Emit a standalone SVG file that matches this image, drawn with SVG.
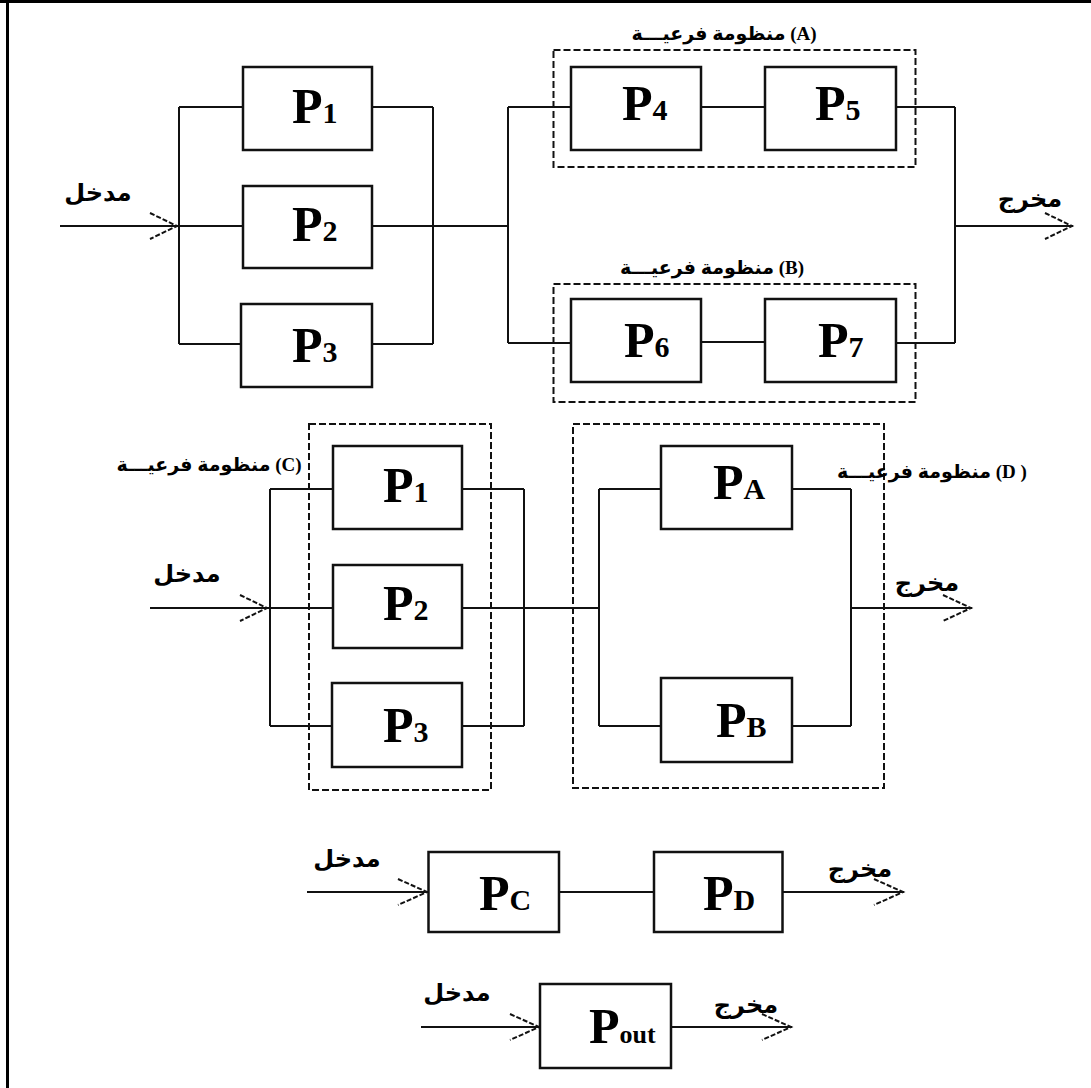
<svg xmlns="http://www.w3.org/2000/svg" width="1091" height="1088" viewBox="0 0 1091 1088">
  <style>
    .box { fill: #fff; stroke: #111; stroke-width: 2.5; }
    .sub { fill: none; stroke: #111; stroke-width: 2; stroke-dasharray: 7 3; }
    .wire { fill: none; stroke: #111; stroke-width: 2; }
    .head { fill: none; stroke: #111; stroke-width: 2; stroke-dasharray: 5 2; }
    .p { font-family: "Liberation Serif", "Times New Roman", serif; font-weight: bold; fill: #000; }
    .pm { font-size: 50px; }
    .ps { font-size: 30px; }
    .ar { font-family: "Liberation Serif", "DejaVu Sans", "Noto Sans", sans-serif; font-weight: bold; font-size: 24px; fill: #000; text-anchor: middle; }
    .arS { font-size: 19px; }
  </style>

  <rect width="1091" height="1088" fill="#fff"/>
  <!-- frame -->
  <line x1="0" y1="1.5" x2="1091" y2="1.5" stroke="#000" stroke-width="3"/>
  <line x1="7.5" y1="0" x2="7.5" y2="1088" stroke="#000" stroke-width="3"/>

  <!-- connectors -->
  <g id="connectors">
    <!-- top: P1..P3 parallel -->
    <path class="wire" d="M60 226 H243 M179 107 V344 M179 107 H243 M179 344 H241 M372 107 H433 M372 344 H433 M433 107 V344 M372 226 H508"/>
    <path class="head" d="M150 213 L177 226 L150 239"/>
    <!-- top: subsystems A and B -->
    <path class="wire" d="M508 107 V343 M508 107 H571 M508 343 H571 M701 107 H765 M701 342 H765 M896 107 H955 M896 343 H955 M955 107 V343 M955 226 H1073"/>
    <path class="head" d="M1045 213 L1072 226 L1045 239"/>
    <!-- middle: C and D -->
    <path class="wire" d="M150 608 H333 M270 489 V726 M270 489 H333 M270 726 H332 M462 489 H524 M462 726 H524 M524 489 V726 M462 608 H599 M599 489 V726 M599 489 H661 M599 726 H661 M792 489 H851 M792 726 H851 M851 489 V726 M851 608 H972"/>
    <path class="head" d="M240 595 L267 608 L240 621"/>
    <path class="head" d="M943 595 L971 608 L943 621"/>
    <!-- bottom: PC, PD in series -->
    <path class="wire" d="M307 892 H428 M559 892 H654 M782 892 H904"/>
    <path class="head" d="M398 879 L427 892 L398 905"/>
    <path class="head" d="M874 879 L903 892 L874 905"/>
    <!-- bottom: Pout -->
    <path class="wire" d="M421 1027 H540 M671 1027 H792"/>
    <path class="head" d="M510 1014 L539 1027 L510 1040"/>
    <path class="head" d="M762 1014 L791 1027 L762 1040"/>
  </g>

  <!-- subsystem outlines -->
  <g id="subA">
    <rect class="sub" x="553.5" y="50" width="362" height="117"/>
    <text class="ar arS" x="724" y="40">منظومة فرعيـــة (A)</text>
  </g>
  <g id="subB">
    <rect class="sub" x="553.5" y="284" width="362" height="118"/>
    <text class="ar arS" x="712" y="274">منظومة فرعيـــة (B)</text>
  </g>
  <g id="subC">
    <rect class="sub" x="309" y="424" width="182" height="366"/>
    <text class="ar arS" x="209" y="471">منظومة فرعيـــة (C)</text>
  </g>
  <g id="subD">
    <rect class="sub" x="573" y="424" width="311" height="364"/>
    <text class="ar arS" x="932" y="478">منظومة فرعيـــة (D )</text>
  </g>

  <!-- top section nodes -->
  <g id="p1-top"><rect class="box" x="243" y="67" width="129" height="83"/><text class="p" x="292" y="123"><tspan class="pm">P</tspan><tspan class="ps">1</tspan></text></g>
  <g id="p2-top"><rect class="box" x="243" y="186" width="129" height="82"/><text class="p" x="292" y="241"><tspan class="pm">P</tspan><tspan class="ps">2</tspan></text></g>
  <g id="p3-top"><rect class="box" x="241" y="304" width="131" height="83"/><text class="p" x="292" y="362"><tspan class="pm">P</tspan><tspan class="ps">3</tspan></text></g>
  <g id="p4"><rect class="box" x="571" y="67" width="130" height="83"/><text class="p" x="622" y="120"><tspan class="pm">P</tspan><tspan class="ps">4</tspan></text></g>
  <g id="p5"><rect class="box" x="765" y="67" width="131" height="83"/><text class="p" x="815" y="120"><tspan class="pm">P</tspan><tspan class="ps">5</tspan></text></g>
  <g id="p6"><rect class="box" x="571" y="299" width="130" height="83"/><text class="p" x="624" y="357"><tspan class="pm">P</tspan><tspan class="ps">6</tspan></text></g>
  <g id="p7"><rect class="box" x="765" y="299" width="131" height="83"/><text class="p" x="818" y="357"><tspan class="pm">P</tspan><tspan class="ps">7</tspan></text></g>

  <!-- middle section nodes -->
  <g id="p1-mid"><rect class="box" x="333" y="446" width="129" height="83"/><text class="p" x="383" y="502"><tspan class="pm">P</tspan><tspan class="ps">1</tspan></text></g>
  <g id="p2-mid"><rect class="box" x="333" y="565" width="129" height="83"/><text class="p" x="383" y="620"><tspan class="pm">P</tspan><tspan class="ps">2</tspan></text></g>
  <g id="p3-mid"><rect class="box" x="332" y="683" width="130" height="84"/><text class="p" x="383" y="742"><tspan class="pm">P</tspan><tspan class="ps">3</tspan></text></g>
  <g id="pa"><rect class="box" x="661" y="446" width="131" height="83"/><text class="p" x="713" y="499"><tspan class="pm">P</tspan><tspan class="ps">A</tspan></text></g>
  <g id="pb"><rect class="box" x="661" y="678" width="131" height="84"/><text class="p" x="716" y="737"><tspan class="pm">P</tspan><tspan class="ps">B</tspan></text></g>

  <!-- bottom nodes -->
  <g id="pc"><rect class="box" x="428.5" y="852" width="130.5" height="80"/><text class="p" x="479" y="910"><tspan class="pm">P</tspan><tspan class="ps">C</tspan></text></g>
  <g id="pd"><rect class="box" x="654" y="852" width="128.5" height="80"/><text class="p" x="703" y="910"><tspan class="pm">P</tspan><tspan class="ps">D</tspan></text></g>
  <g id="pout"><rect class="box" x="540" y="984" width="131" height="84"/><text class="p" x="589" y="1043"><tspan class="pm">P</tspan><tspan class="ps" style="font-size:26px">out</tspan></text></g>

  <!-- input / output labels -->
  <g id="labels">
    <text class="ar" x="98" y="201">مدخل</text>
    <text class="ar" x="1030" y="207">مخرج</text>
    <text class="ar" x="187" y="582">مدخل</text>
    <text class="ar" x="927" y="591">مخرج</text>
    <text class="ar" x="347" y="867">مدخل</text>
    <text class="ar" x="860" y="877">مخرج</text>
    <text class="ar" x="457" y="1001">مدخل</text>
    <text class="ar" x="746" y="1013">مخرج</text>
  </g>
</svg>
